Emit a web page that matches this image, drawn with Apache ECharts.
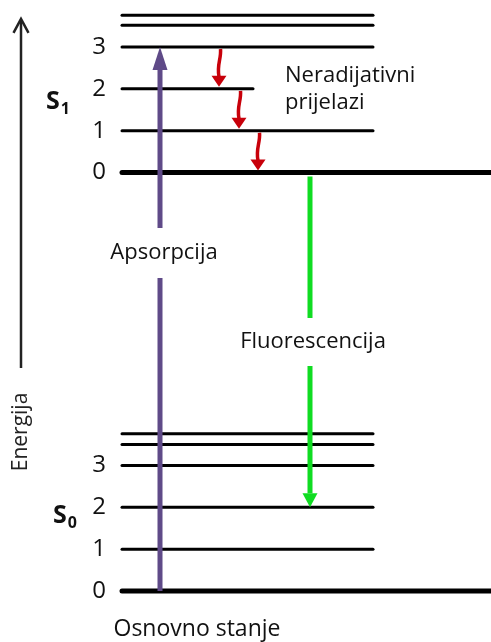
<!DOCTYPE html>
<html><head><meta charset="utf-8">
<script src="https://cdn.jsdelivr.net/npm/echarts@6/dist/echarts.min.js"></script>
<style>html,body{margin:0;padding:0;background:#fff}#c{width:491px;height:642px}</style>
</head><body><div id="c"></div>
<script>
// Energies in units of vibrational spacing (S0 v=0 at 0)
const levelsS0 = [0, 1, 2, 3, 3.5, 3.76];
const levelsS1 = [10, 11, 12, 13, 13.52, 13.76];
const tickLabels = {0: '0', 1: '1', 2: '2', 3: '3', 10: '0', 11: '1', 12: '2', 13: '3'};
const absorption = [0, 13];
const fluorescence = [10, 2];
const nonRadiative = [[13, 12], [12, 11], [11, 10]];
const stateNames = ['0', '1'];
const textAbs = 'Apsorpcija';
const textFluo = 'Fluorescencija';
const textNonRad = 'Neradijativni\nprijelazi';
const textGround = 'Osnovno stanje';
const textEnergy = 'Energija';

const FONT = 'Open Sans';
const chart = echarts.init(document.getElementById('c'), null, {renderer: 'canvas'});

const levelData = [];
levelsS0.forEach((e, i) => levelData.push([e, 122, i === 0 ? 491 : 373, i === 0 ? 5 : 3]));
levelsS1.forEach((e, i) => levelData.push([e, 122, i === 0 ? 491 : (i === 2 ? 253 : 373), i === 0 ? 5 : 3]));

function renderLevel(params, api) {
  const e = api.value(0);
  const p0 = api.coord([api.value(1), e]);
  const p1 = api.coord([api.value(2), e]);
  return {type: 'line', shape: {x1: p0[0], y1: p0[1], x2: p1[0], y2: p1[1]},
    style: {stroke: '#000', lineWidth: api.value(3), lineCap: 'round'}};
}

// straight arrows: [x, from, to, lineWidth, headW, headL, startOffsetPx, styleIdx]
const arrowStyles = ['#5f4a88', '#10dc22', '#222222'];
const arrowData = [
  [160, absorption[0], absorption[1], 5, 15, 23, 0, 0],
  [310, fluorescence[0], fluorescence[1], 5, 15, 14, 4, 1],
  [21, 5.33, 13.67, 2.5, 15, 14, 0, 2]
];
function renderArrow(params, api) {
  const x = api.value(0);
  const p0 = api.coord([x, api.value(1)]);
  const p1 = api.coord([x, api.value(2)]);
  const lw = api.value(3), hw = api.value(4), hl = api.value(5), off = api.value(6);
  const idx = api.value(7);
  const color = arrowStyles[idx];
  const dir = p1[1] < p0[1] ? -1 : 1;
  const y0 = p0[1] + dir * off;
  const baseY = p1[1] - dir * hl;
  if (idx === 2) {
    return {type: 'group', children: [
      {type: 'line', shape: {x1: p0[0], y1: y0, x2: p1[0], y2: p1[1] + 1}, style: {stroke: color, lineWidth: lw}},
      {type: 'polyline', shape: {points: [[p1[0] - hw / 2, baseY], [p1[0], p1[1]], [p1[0] + hw / 2, baseY]]},
        style: {stroke: color, lineWidth: lw, fill: null}}
    ]};
  }
  return {type: 'group', children: [
    {type: 'line', shape: {x1: p0[0], y1: y0, x2: p1[0], y2: baseY}, style: {stroke: color, lineWidth: lw}},
    {type: 'polygon', shape: {points: [[p1[0] - hw / 2, baseY], [p1[0], p1[1]], [p1[0] + hw / 2, baseY]]},
      style: {fill: color}}
  ]};
}

const wavyX = [219, 239, 258];
const wavyData = nonRadiative.map((t, i) => [wavyX[i], t[0], t[1]]);
function renderWavy(params, api) {
  const x = api.value(0);
  const p0 = api.coord([x, api.value(1)]);
  const p1 = api.coord([x, api.value(2)]);
  const ys = p0[1] + 2, ye = p1[1] - 2;
  const hl = 11, hw = 15;
  const base = ye - hl;
  const L = base - ys;
  return {type: 'group', children: [
    {type: 'bezierCurve', shape: {x1: x + 1.5, y1: ys, cpx1: x + 2.5, cpy1: ys + L * 0.35, cpx2: x - 2.5, cpy2: ys + L * 0.6, x2: x, y2: base + 1},
      style: {stroke: '#c8000a', lineWidth: 3.5, fill: null}},
    {type: 'polygon', shape: {points: [[x - hw / 2, base], [x, ye], [x + hw / 2, base]]}, style: {fill: '#c8000a'}}
  ]};
}

const baseLabel = {show: true, position: [0, 0], align: 'center', verticalAlign: 'middle',
  fontFamily: FONT, color: '#111', fontSize: 22, opacity: 1};
const subRich = {s: {fontSize: 25, fontWeight: 'bold', fontFamily: FONT, color: '#111'},
  b: {fontSize: 16, fontWeight: 'bold', fontFamily: FONT, color: '#111', padding: [16, 0, 0, 1]}};
const textData = [
  {value: [164, 8.08], label: Object.assign({}, baseLabel, {formatter: textAbs, backgroundColor: '#fff', padding: [14, 4]})},
  {value: [313, 5.95], label: Object.assign({}, baseLabel, {formatter: textFluo, backgroundColor: '#fff', padding: [13, 4]})},
  {value: [285, 12.0], label: Object.assign({}, baseLabel, {formatter: textNonRad, align: 'left', lineHeight: 27})},
  {value: [197, -0.93], label: Object.assign({}, baseLabel, {formatter: textGround, fontSize: 23})},
  {value: [21, 3.8], label: Object.assign({}, baseLabel, {formatter: textEnergy, rotate: 90, fontSize: 21, color: '#222'})},
  {value: [58, 11.7], label: Object.assign({}, baseLabel, {formatter: '{s|S}{b|' + stateNames[1] + '}', rich: subRich})},
  {value: [65, 1.8], label: Object.assign({}, baseLabel, {formatter: '{s|S}{b|' + stateNames[0] + '}', rich: subRich})}
];

chart.setOption({
  animation: false,
  backgroundColor: '#fff',
  grid: {left: 0, right: 0, top: 5.15, bottom: 9.15, containLabel: false},
  xAxis: {type: 'value', min: 0, max: 491, show: false},
  yAxis: {type: 'value', min: -1, max: 14, interval: 1, offset: -114, position: 'left',
    axisLine: {show: false}, axisTick: {show: false}, splitLine: {show: false},
    axisLabel: {margin: 8, fontSize: 24, fontFamily: FONT, color: '#111',
      formatter: v => (tickLabels[v] !== undefined ? tickLabels[v] : '')}},
  series: [
    {type: 'custom', renderItem: renderLevel, data: levelData, clip: false, z: 2, silent: true},
    {type: 'custom', renderItem: renderArrow, data: arrowData, clip: false, z: 3, silent: true},
    {type: 'custom', renderItem: renderWavy, data: wavyData, clip: false, z: 3, silent: true},
    {type: 'scatter', data: textData, symbolSize: 0, clip: false, z: 5, silent: true,
      itemStyle: {opacity: 1}}
  ]
});
</script></body></html>
